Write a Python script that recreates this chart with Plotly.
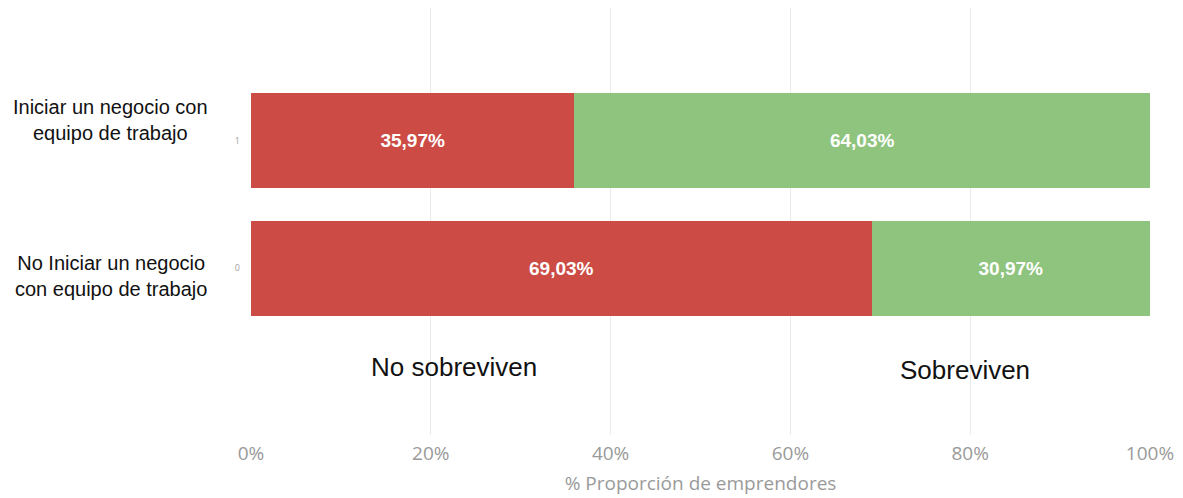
import plotly.graph_objects as go

# Survival of entrepreneurs by whether they started with a work team
groups = [1, 0]
group_names = ["Iniciar un negocio con<br>equipo de trabajo",
               "No Iniciar un negocio<br>con equipo de trabajo"]
no_sobreviven = [35.97, 69.03]
sobreviven = [64.03, 30.97]
x_ticks = [0, 20, 40, 60, 80, 100]
x_tick_labels = ["0%", "20%", "40%", "60%", "80%", "100%"]

RED = "#CC4B45"
GREEN = "#8FC47F"
BAR_FONT = dict(family="Liberation Sans, Arial", size=19, color="white", weight="bold")

fig = go.Figure()
fig.add_trace(go.Bar(
    y=groups, x=no_sobreviven, orientation="h", name="No sobreviven",
    marker=dict(color=RED, line=dict(width=0)), width=0.745,
    texttemplate="%{x:.2f}%", textposition="inside", insidetextanchor="middle",
    textfont=BAR_FONT,
))
fig.add_trace(go.Bar(
    y=groups, x=sobreviven, orientation="h", name="Sobreviven",
    marker=dict(color=GREEN, line=dict(width=0)), width=0.745,
    texttemplate="%{x:.2f}%", textposition="inside", insidetextanchor="middle",
    textfont=BAR_FONT,
))

# group labels sit to the left of the axis, nudged per group
label_y = [1.16, -0.06]
annotations = []
for ly, name in zip(label_y, group_names):
    annotations.append(dict(
        x=-0.156, y=ly, xref="paper", yref="y", text=name, showarrow=False,
        xanchor="center", yanchor="middle", align="center",
        font=dict(family="Liberation Sans, Arial", size=20, color="#111"),
    ))
annotations.append(dict(x=22.6, y=-0.78, xref="x", yref="y", text="No sobreviven",
                        showarrow=False, font=dict(family="Liberation Sans, Arial", size=26, color="#111")))
annotations.append(dict(x=79.4, y=-0.8, xref="x", yref="y", text="Sobreviven",
                        showarrow=False, font=dict(family="Liberation Sans, Arial", size=26, color="#111")))

fig.update_layout(
    barmode="stack",
    width=1183, height=498,
    margin=dict(l=251, r=33, t=8, b=63),
    paper_bgcolor="white", plot_bgcolor="white",
    showlegend=False,
    separators=",.",
    annotations=annotations,
    xaxis=dict(
        range=[0, 100], tickvals=x_ticks, ticktext=x_tick_labels,
        showgrid=True, gridcolor="#EBEBEB", gridwidth=1, zeroline=False,
        showline=False, ticks="outside", ticklen=1, tickcolor="rgba(0,0,0,0)",
        automargin=False,
        tickfont=dict(family="Open Sans", size=19, color="#9A9A9A"),
        title=dict(text="% Proporción de emprendores", standoff=11,
                   font=dict(family="Open Sans", size=19, color="#9A9A9A")),
    ),
    yaxis=dict(
        range=[-1.31, 2.04], tickvals=[0, 1], ticktext=["0", "1"],
        showgrid=False, zeroline=False, showline=False, ticks="",
        ticklabelstandoff=10, automargin=False,
        tickfont=dict(family="Open Sans", size=9, color="#A0A0A0"),
    ),
)

fig.write_html("out.html")
